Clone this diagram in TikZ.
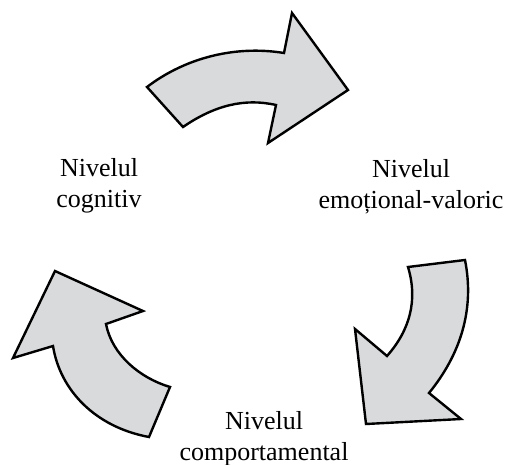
\documentclass[tikz,border=0pt]{standalone}
\usepackage{fontspec}
\setmainfont{Liberation Serif}
\begin{document}
\begin{tikzpicture}[x=1pt,y=-1pt,
  bigarrow/.style={draw=black,fill=arrowgray,line width=2.4pt,line join=miter},
  lbl/.style={align=center,anchor=base,inner sep=0pt,font=\fontsize{26}{31}\selectfont}]
\definecolor{arrowgray}{HTML}{D9DADC}
\useasboundingbox (0,0) rectangle (508,465);
% top arrow (cognitive -> emotional)
\path[bigarrow] (147,87) -- (183,127) .. controls (215,105) and (245,98) .. (276,105)
  -- (268,143) -- (348,90) -- (292,13) -- (284,53)
  .. controls (235,45) and (185,58) .. (147,87) -- cycle;
% right arrow (emotional -> behavioural)
\path[bigarrow] (408,267) -- (465,260) .. controls (475,310) and (460,355) .. (429,393)
  -- (461,419) -- (366,424) -- (355,329) -- (387,356)
  .. controls (410,330) and (418,300) .. (408,267) -- cycle;
% left arrow (behavioural -> cognitive)
\path[bigarrow] (55,271) -- (143,311) -- (106,324) .. controls (112,355) and (140,378) .. (170,387)
  -- (149,437) .. controls (95,427) and (60,390) .. (53,346) -- (13,358) -- cycle;
\node[lbl] (cog) at (99,207) {Nivelul\\cognitiv};
\node[lbl] (emo) at (411,208) {Nivelul\\emoțional-valoric};
\node[lbl] (comp) at (264,460) {Nivelul\\comportamental};
\end{tikzpicture}
\end{document}
